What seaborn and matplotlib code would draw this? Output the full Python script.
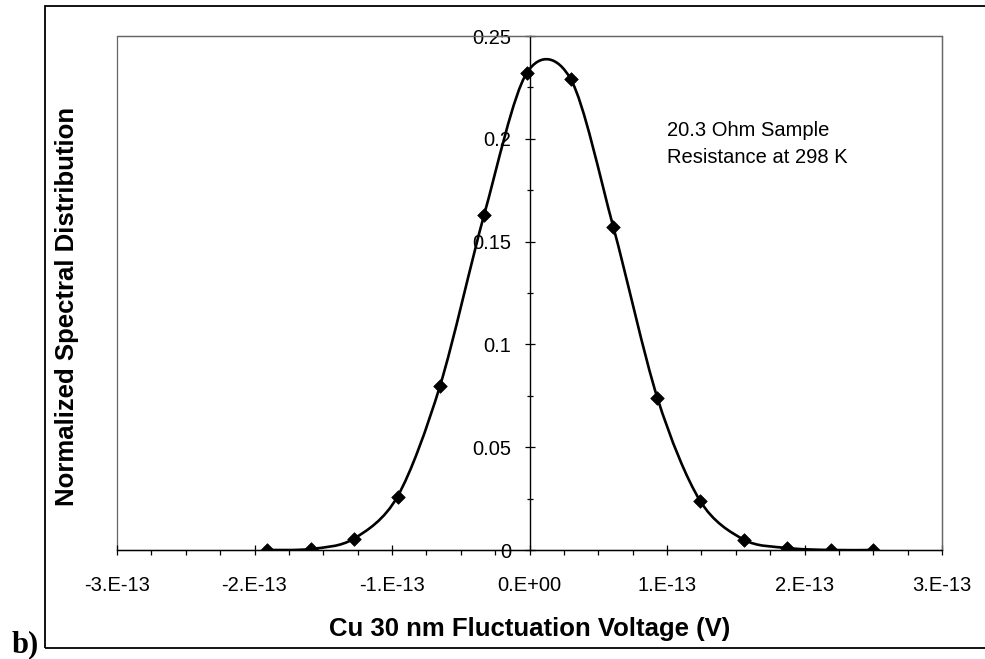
import numpy as np
import pandas as pd
import matplotlib
matplotlib.use('Agg')
import matplotlib.pyplot as plt
import seaborn as sns
from matplotlib.path import Path
from matplotlib.patches import PathPatch, Rectangle
from matplotlib.ticker import FixedLocator, MultipleLocator

# data (voltage in V, normalized distribution)
voltage = [-1.91e-13, -1.59e-13, -1.28e-13, -0.96e-13, -0.65e-13, -0.33e-13, -0.02e-13,
           0.30e-13, 0.61e-13, 0.93e-13, 1.24e-13, 1.56e-13, 1.87e-13, 2.19e-13, 2.50e-13]
spectral = [0.000, 0.0005, 0.0054, 0.026, 0.080, 0.163, 0.232,
            0.229, 0.157, 0.074, 0.024, 0.005, 0.001, 0.000, 0.000]

x_ticks = [-3e-13, -2e-13, -1e-13, 0.0, 1e-13, 2e-13, 3e-13]
x_tick_labels = ['-3.E-13', '-2.E-13', '-1.E-13', '0.E+00', '1.E-13', '2.E-13', '3.E-13']
y_ticks = [0, 0.05, 0.1, 0.15, 0.2, 0.25]
y_tick_labels = ['0', '0.05', '0.1', '0.15', '0.2', '0.25']

df = pd.DataFrame({'voltage': voltage, 'spectral': spectral})

sns.set_theme(style='white')
plt.rcParams['font.family'] = ['Liberation Sans', 'DejaVu Sans']
plt.rcParams['text.color'] = 'black'

fig = plt.figure(figsize=(9.85, 6.59), dpi=100)
ax = fig.add_axes([117 / 985, 1 - 550 / 659, (942 - 117) / 985, (550 - 36) / 659])

# smoothed line like Excel (Bezier through the points)
x = df['voltage'].to_numpy()
y = df['spectral'].to_numpy()
verts = [(x[0], y[0])]
codes = [Path.MOVETO]
n = len(x)
k = 1 / 6.5
for i in range(n - 1):
    x0, y0 = x[max(i - 1, 0)], y[max(i - 1, 0)]
    x3, y3 = x[min(i + 2, n - 1)], y[min(i + 2, n - 1)]
    c1 = (x[i] + (x[i + 1] - x0) * k, y[i] + (y[i + 1] - y0) * k)
    c2 = (x[i + 1] - (x3 - x[i]) * k, y[i + 1] - (y3 - y[i]) * k)
    verts += [c1, c2, (x[i + 1], y[i + 1])]
    codes += [Path.CURVE4] * 3
ax.add_patch(PathPatch(Path(verts, codes), fill=False, ec='black', lw=1.9, zorder=3))

sns.scatterplot(data=df, x='voltage', y='spectral', marker='D', s=48, color='black',
                edgecolor='black', linewidth=0.5, zorder=4, ax=ax, legend=False)

ax.set_xlim(-3e-13, 3e-13)
ax.set_ylim(0, 0.25)

# axes cross at zero, grey frame round the plot area
ax.spines['left'].set_position(('data', 0))
ax.spines['left'].set_color('black')
ax.spines['bottom'].set_color('black')
ax.spines['left'].set_linewidth(1.0)
ax.spines['bottom'].set_linewidth(1.0)
for s in ['top', 'right']:
    ax.spines[s].set_color('#666666')
    ax.spines[s].set_linewidth(0.9)
ax.add_patch(Rectangle((0, 0), 1, 1, transform=ax.transAxes, fill=False,
                       ec='#666666', lw=0.9, clip_on=False, zorder=0))

ax.xaxis.set_major_locator(FixedLocator(x_ticks))
ax.set_xticklabels(x_tick_labels)
ax.xaxis.set_minor_locator(MultipleLocator(0.25e-13))
ax.yaxis.set_major_locator(FixedLocator(y_ticks))
ax.set_yticklabels(y_tick_labels)
ax.yaxis.set_minor_locator(MultipleLocator(0.025))

ax.tick_params(axis='x', which='major', direction='inout', length=7.2, width=0.9,
               pad=15, labelsize=14.5, colors='black', bottom=True)
ax.tick_params(axis='x', which='minor', direction='out', length=3.6, width=0.9,
               colors='black', bottom=True)
ax.tick_params(axis='y', which='major', direction='inout', length=7.2, width=0.9,
               pad=9.5, labelsize=14.5, colors='black', left=True)
ax.tick_params(axis='y', which='minor', direction='inout', length=5, width=0.9,
               colors='black', left=True)

ax.set_xlabel('')
ax.set_ylabel('')

ax.text(0.667, 0.79, '20.3 Ohm Sample\nResistance at 298 K', transform=ax.transAxes,
        fontsize=14.5, ha='left', va='center', linespacing=1.5, color='black')

fig.text(530 / 985, 1 - 629 / 659, 'Cu 30 nm Fluctuation Voltage (V)', fontsize=18.5,
         fontweight='bold', ha='center', va='center', color='black')
fig.text(67 / 985, 1 - 306 / 659, 'Normalized Spectral Distribution', fontsize=18.5,
         fontweight='bold', ha='center', va='center', rotation=90, color='black')

# outer chart border and the panel letter
fig.patches.append(Rectangle((45 / 985, 1 - 648 / 659), 1.0, (648 - 6) / 659,
                             transform=fig.transFigure, fill=False, ec='black', lw=1.3))
fig.text(12 / 985, 1 - 652 / 659, 'b)', fontsize=22, fontweight='bold', color='black',
         family=['Liberation Serif', 'DejaVu Serif'], ha='left', va='baseline')

fig.savefig('out.png', dpi=100)
